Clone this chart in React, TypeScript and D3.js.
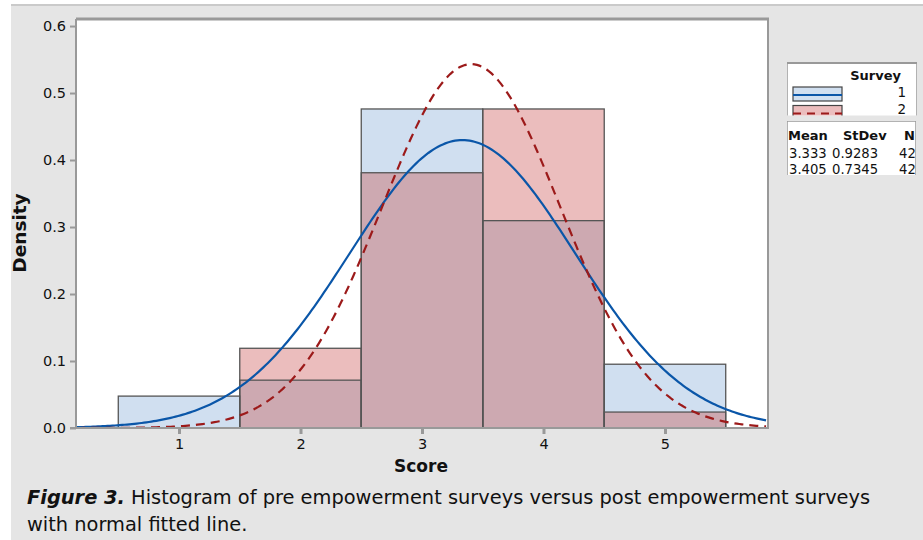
import { useEffect, useRef } from "react";
import * as d3 from "d3";

// bins centred on the integer scores, densities = count / 42
const binCenters = [1, 2, 3, 4, 5];
const survey1 = [0.0476, 0.0714, 0.4762, 0.3095, 0.0952];
const survey2 = [0, 0.119, 0.381, 0.4762, 0.0238];

// fitted normal parameters (from the legend)
const surveyNames = ["1", "2"];
const means = [3.333, 3.405];
const stdevs = [0.9283, 0.7345];
const counts = [42, 42];

const yTicks = [0, 0.1, 0.2, 0.3, 0.4, 0.5, 0.6];
const xTicks = [1, 2, 3, 4, 5];

export default function App() {
  const ref = useRef<SVGSVGElement>(null);

  useEffect(() => {
    const width = 923;
    const height = 540;
    const font = "'DejaVu Sans', 'Noto Sans', sans-serif";
    const plot = { left: 76, right: 768, top: 19, bottom: 428 };

    const svg = d3.select(ref.current);
    svg.selectAll("*").remove();
    svg.attr("viewBox", `0 0 ${width} ${height}`);

    // page background
    svg.append("rect").attr("width", width).attr("height", height).attr("fill", "#fff");
    svg.append("rect").attr("x", 11).attr("y", 4).attr("width", width - 11).attr("height", height - 4).attr("fill", "#e5e5e5");
    svg.append("rect").attr("x", 11).attr("y", 4).attr("width", width - 11).attr("height", 2).attr("fill", "#cacaca");

    const x = d3.scaleLinear().domain([0.152, 5.848]).range([plot.left, plot.right]);
    const y = d3.scaleLinear().domain([0, 0.6105]).range([plot.bottom, plot.top]);

    svg
      .append("rect")
      .attr("x", plot.left)
      .attr("y", plot.top)
      .attr("width", plot.right - plot.left)
      .attr("height", plot.bottom - plot.top)
      .attr("fill", "#fff");

    const g = svg.append("g");
    const bins = binCenters.map((c, i) => ({ c, a: survey1[i], b: survey2[i] }));
    const bx = (d: any) => x(d.c - 0.5);
    const bw = (d: any) => x(d.c + 0.5) - x(d.c - 0.5);

    g.selectAll("rect.s1")
      .data(bins)
      .join("rect")
      .attr("x", bx)
      .attr("width", bw)
      .attr("y", (d) => y(d.a))
      .attr("height", (d) => y(0) - y(d.a))
      .attr("fill", "#d0dff0");
    g.selectAll("rect.s2")
      .data(bins)
      .join("rect")
      .attr("x", bx)
      .attr("width", bw)
      .attr("y", (d) => y(d.b))
      .attr("height", (d) => y(0) - y(d.b))
      .attr("fill", "#ebbdbd");
    g.selectAll("rect.ov")
      .data(bins)
      .join("rect")
      .attr("x", bx)
      .attr("width", bw)
      .attr("y", (d) => y(Math.min(d.a, d.b)))
      .attr("height", (d) => y(0) - y(Math.min(d.a, d.b)))
      .attr("fill", "#cda9b1");
    [survey1, survey2].forEach((vals) => {
      g.append("g")
        .selectAll("rect")
        .data(bins.filter((_, i) => vals[i] > 0))
        .join("rect")
        .attr("x", bx)
        .attr("width", bw)
        .attr("y", (d) => y(vals[binCenters.indexOf(d.c)]))
        .attr("height", (d) => y(0) - y(vals[binCenters.indexOf(d.c)]))
        .attr("fill", "none")
        .attr("stroke", "#555")
        .attr("stroke-width", 1.3);
    });

    // fitted normal curves
    svg.append("clipPath").attr("id", "plotclip").append("rect")
      .attr("x", plot.left).attr("y", plot.top)
      .attr("width", plot.right - plot.left).attr("height", plot.bottom - plot.top);
    const xs = d3.range(0.152, 5.85, 0.02);
    const line = d3.line<[number, number]>().x((d) => x(d[0])).y((d) => y(d[1]));
    const styles = [
      { color: "#0a56a8", dash: null },
      { color: "#9c1a1a", dash: "9,6" },
    ];
    means.forEach((m, i) => {
      const sd = stdevs[i];
      const pts: [number, number][] = xs.map((v) => [
        v,
        Math.exp(-0.5 * ((v - m) / sd) ** 2) / (sd * Math.sqrt(2 * Math.PI)),
      ]);
      svg
        .append("path")
        .attr("clip-path", "url(#plotclip)")
        .attr("d", line(pts))
        .attr("fill", "none")
        .attr("stroke", styles[i].color)
        .attr("stroke-width", 2.2)
        .attr("stroke-dasharray", styles[i].dash);
    });

    // frame
    svg.append("line").attr("x1", plot.left).attr("x2", plot.right + 1).attr("y1", plot.top).attr("y2", plot.top).attr("stroke", "#999").attr("stroke-width", 3);
    svg.append("line").attr("x1", plot.right).attr("x2", plot.right).attr("y1", plot.top).attr("y2", plot.bottom).attr("stroke", "#999").attr("stroke-width", 2);

    // axes
    const yAxis = svg
      .append("g")
      .attr("transform", `translate(${plot.left},0)`)
      .call(d3.axisLeft(y).tickValues(yTicks).tickFormat(d3.format(".1f")).tickSize(6).tickPadding(4));
    yAxis.select(".domain").attr("stroke", "#999").attr("stroke-width", 2).attr("d", `M0,${plot.top}V${plot.bottom}`);
    yAxis.selectAll(".tick line").attr("stroke", "#999").attr("stroke-width", 2);
    yAxis.selectAll("text").attr("fill", "#111").attr("font-size", 14.5).attr("font-family", font);

    const xAxis = svg
      .append("g")
      .attr("transform", `translate(0,${plot.bottom})`)
      .call(d3.axisBottom(x).tickValues(xTicks).tickFormat(d3.format("d")).tickSize(6).tickPadding(5));
    xAxis.select(".domain").attr("stroke", "#999").attr("stroke-width", 2).attr("d", `M${plot.left - 6},0H${plot.right + 1}`);
    xAxis.selectAll(".tick line").attr("stroke", "#999").attr("stroke-width", 3);
    xAxis.selectAll("text").attr("fill", "#111").attr("font-size", 14.5).attr("font-family", font);

    svg
      .append("text")
      .attr("x", 421)
      .attr("y", 472)
      .attr("text-anchor", "middle")
      .attr("font-family", font)
      .attr("font-size", 17)
      .attr("font-weight", "bold")
      .attr("fill", "#111")
      .text("Score");
    svg
      .append("text")
      .attr("transform", "translate(26,233) rotate(-90)")
      .attr("text-anchor", "middle")
      .attr("font-family", font)
      .attr("font-size", 18.5)
      .attr("font-weight", "bold")
      .attr("fill", "#111")
      .text("Density");

    // legend box 1
    const lg = svg.append("g");
    lg.append("clipPath").attr("id", "lg1").append("rect").attr("x", 787).attr("y", 62).attr("width", 130).attr("height", 53.5);
    lg.append("rect").attr("x", 787).attr("y", 62).attr("width", 130).attr("height", 60).attr("fill", "#fff").attr("stroke", "#999").attr("stroke-width", 1.5).attr("clip-path", "url(#lg1)");
    lg.append("line").attr("x1", 787).attr("x2", 917).attr("y1", 63).attr("y2", 63).attr("stroke", "#999").attr("stroke-width", 2);
    const l1 = lg.append("g").attr("clip-path", "url(#lg1)");
    l1.append("text").attr("x", 901).attr("y", 80).attr("text-anchor", "end").attr("font-family", font).attr("font-size", 13).attr("font-weight", "bold").attr("fill", "#111").text("Survey");
    const swFills = ["#d0dff0", "#ebbdbd"];
    surveyNames.forEach((n, i) => {
      const ry = 87 + i * 18.5;
      l1.append("rect").attr("x", 793).attr("y", ry).attr("width", 49).attr("height", 14).attr("fill", swFills[i]).attr("stroke", "#444").attr("stroke-width", 1.2);
      l1.append("line").attr("x1", 793).attr("x2", 842).attr("y1", ry + 8).attr("y2", ry + 8).attr("stroke", styles[i].color).attr("stroke-width", 2.2).attr("stroke-dasharray", i === 1 ? "8,6" : null);
      l1.append("text").attr("x", 906).attr("y", 97 + i * 17).attr("text-anchor", "end").attr("font-family", font).attr("font-size", 13.5).attr("fill", "#111").text(n);
    });

    // legend box 2
    lg.append("clipPath").attr("id", "lg2").append("rect").attr("x", 787).attr("y", 121).attr("width", 129).attr("height", 54);
    lg.append("rect").attr("x", 787).attr("y", 121).attr("width", 129).attr("height", 60).attr("fill", "#fff").attr("stroke", "#999").attr("stroke-width", 1.5).attr("clip-path", "url(#lg2)");
    const l2 = lg.append("g").attr("clip-path", "url(#lg2)").attr("font-family", font).attr("font-size", 13.2).attr("fill", "#111");
    l2.append("text").attr("x", 788).attr("y", 140).attr("font-size", 13).attr("font-weight", "bold").text("Mean");
    l2.append("text").attr("x", 843).attr("y", 140).attr("font-size", 13).attr("font-weight", "bold").text("StDev");
    l2.append("text").attr("x", 915).attr("y", 140).attr("text-anchor", "end").attr("font-size", 13).attr("font-weight", "bold").text("N");
    means.forEach((m, i) => {
      const ty = 157.5 + i * 16.5;
      l2.append("text").attr("x", 789).attr("y", ty).text(m.toFixed(3));
      l2.append("text").attr("x", 832).attr("y", ty).text(stdevs[i].toFixed(4));
      l2.append("text").attr("x", 899).attr("y", ty).text(String(counts[i]));
    });

    // caption
    const cap = svg.append("text").attr("x", 27).attr("y", 504).attr("font-family", font).attr("font-size", 19.4).attr("fill", "#111");
    cap.append("tspan").attr("font-weight", "bold").attr("font-style", "italic").text("Figure 3.");
    cap.append("tspan").text(" Histogram of pre empowerment surveys versus post empowerment surveys");
    svg.append("text").attr("x", 27).attr("y", 531).attr("font-family", font).attr("font-size", 19.4).attr("fill", "#111").text("with normal fitted line.");
  }, []);

  return (
    <div style={{ position: "absolute", left: 0, top: 0 }}>
      <svg ref={ref} width={923} height={540} style={{ display: "block" }} />
    </div>
  );
}
